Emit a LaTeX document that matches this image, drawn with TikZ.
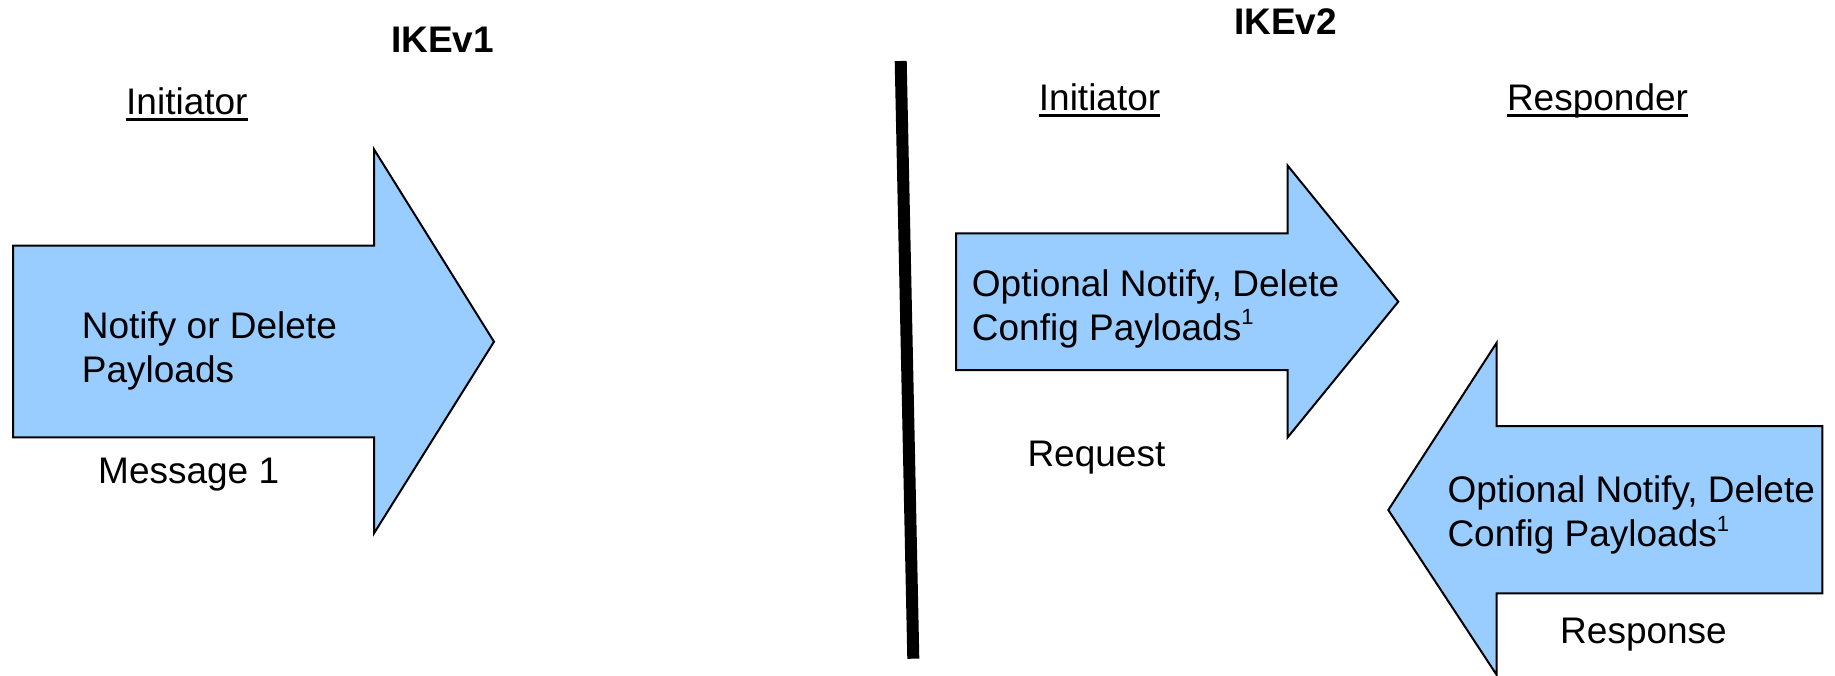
\documentclass[tikz,border=0pt]{standalone}
\usepackage{fontspec}
\setmainfont{Liberation Sans}
\definecolor{arrowblue}{HTML}{99CCFF}
\newcommand{\supone}{\raisebox{0.42em}{\fontsize{22}{22}\selectfont 1}}
\begin{document}
\begin{tikzpicture}[x=1pt,y=-1pt,
  arr/.style={fill=arrowblue, draw=black, line width=2pt, line join=miter},
  lbl/.style={inner sep=0pt, anchor=base west, align=left, font=\fontsize{37}{44}\selectfont},
  ttl/.style={inner sep=0pt, anchor=base west, font=\fontsize{37}{44}\selectfont\bfseries},
  uline/.style={line width=3pt},
  divider/.style={line width=12pt}]
\useasboundingbox (0,0) rectangle (1835,676);

% IKEv1 side
\node[ttl] (ike1) at (391,52.3) {IKEv1};
\node[lbl] (init1) at (126,115) {Initiator};
\draw[uline] ([yshift=-4.5pt]init1.base west) -- ([yshift=-4.5pt]init1.base east);

\draw[arr] (13,245.7) -- (374,245.7) -- (374,149.3) -- (494,341.7) -- (374,533.3) -- (374,437.3) -- (13,437.3) -- cycle;
% base anchor of a two-line node = baseline of its last line
\node[lbl] (msg1txt) at (81.7,382) {Notify or Delete\\Payloads};
\node[lbl] (msg1) at (98,483) {Message 1};

% divider
\coordinate (dtop) at (900.7,61);
\coordinate (dbot) at (913.3,658.7);
\draw[divider] (dtop) -- (dbot);

% IKEv2 side
\node[ttl] (ike2) at (1234,35) {IKEv2};
\node[lbl] (init2) at (1038.7,111) {Initiator};
\draw[uline] ([yshift=-4.5pt]init2.base west) -- ([yshift=-4.5pt]init2.base east);
\node[lbl] (resp) at (1506.8,111) {Responder};
\draw[uline] ([yshift=-4.5pt]resp.base west) -- ([yshift=-4.5pt]resp.base east);

\draw[arr] (956,233.3) -- (1287.7,233.3) -- (1287.7,165.7) -- (1398.3,301.7) -- (1287.7,437.3) -- (1287.7,370) -- (956,370) -- cycle;
\node[lbl] (reqtxt) at (971.7,340) {Optional Notify, Delete\\Config Payloads\supone};
\node[lbl] (req) at (1027.3,466.7) {Request};

\draw[arr] (1822.3,426) -- (1496.7,426) -- (1496.7,342.7) -- (1388.3,510) -- (1496.7,675) -- (1496.7,593.3) -- (1822.3,593.3) -- cycle;
\node[lbl] (resptxt) at (1447.3,546.7) {Optional Notify, Delete\\Config Payloads\supone};
\node[lbl] (respl) at (1560,643.3) {Response};
\end{tikzpicture}
\end{document}
